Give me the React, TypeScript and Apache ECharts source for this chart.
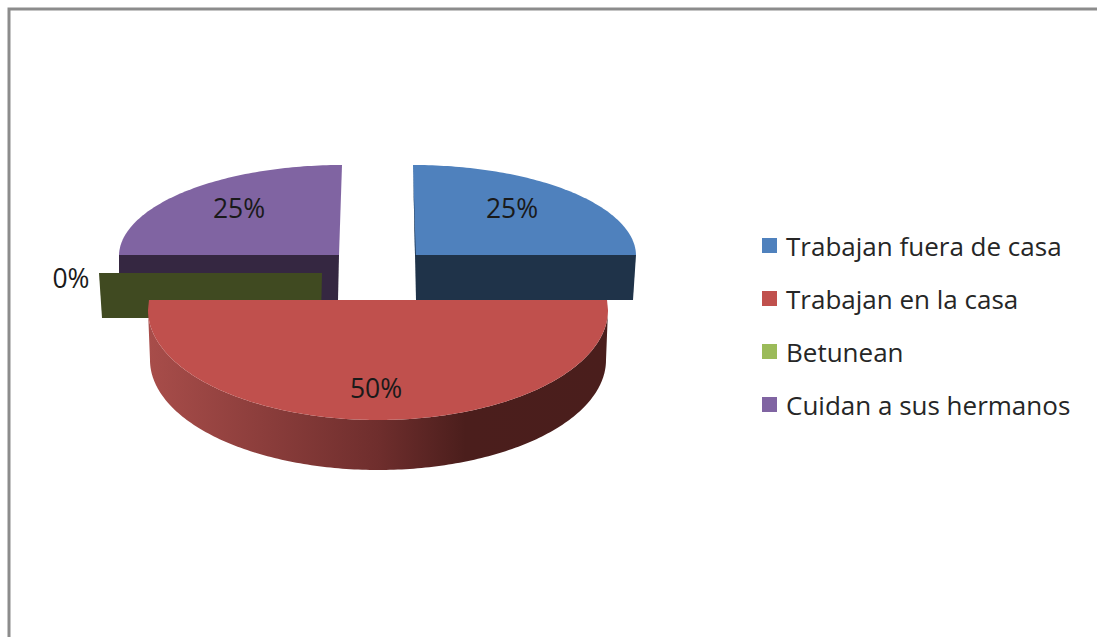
import React, { useEffect, useRef } from "react";
import * as echarts from "echarts";

const categories = ["Trabajan fuera de casa", "Trabajan en la casa", "Betunean", "Cuidan a sus hermanos"];
const values = [25, 50, 0, 25];
const colors = ["#4f81bd", "#c0504d", "#9bbb59", "#8064a2"];
const wallColors = ["#1f3349", "#c0504d", "#404a21", "#352741"];

// Exploded-slice geometry of the 3-D pie (one entry per category).
const layouts = [
  { cx: 415, cy: 255, rx: 221, ry: 90, oy: 0, depth: 45, lean: -2, shrink: 3, lx: 512, ly: 208 },
  { cx: 378, cy: 300, rx: 230, ry: 110, oy: 10, depth: 50, lean: 0, shrink: 2, lx: 376, ly: 388 },
  { cx: 322, cy: 273, rx: 223, ry: 90, oy: 0, depth: 45, lean: 0, shrink: 3, lx: 71, ly: 278 },
  { cx: 339, cy: 255, rx: 220, ry: 90, oy: 0, depth: 45, lean: 3, shrink: 0, lx: 239, ly: 208 },
];
const drawOrder = [3, 0, 2, 1];
const total = values.reduce((a, b) => a + b, 0);
const FONT = "Open Sans";

function rim(l: any, deg: number, down = 0): number[] {
  const a = (deg * Math.PI) / 180;
  const s = Math.sin(a);
  const c = Math.cos(a);
  const shrink = down ? l.shrink : 0;
  const lean = c > 0 ? l.lean * c : 0;
  return [l.cx + (l.rx - shrink) * s + lean, l.cy + l.oy - l.ry * c + down];
}

function renderSlice(index: number) {
  return (_params: any, api: any) => {
    const l = layouts[index];
    const before = values.slice(0, index).reduce((a, b) => a + b, 0);
    const start = (before / total) * 360;
    const sweep = (api.value(0) / total) * 360;
    const end = start + sweep;
    const children: any[] = [];
    const topArc: number[][] = [];
    const n = Math.max(1, Math.round(sweep));
    for (let i = 0; i <= n; i++) topArc.push(rim(l, start + (sweep * i) / n));

    if (sweep >= 180) {
      // front rounded wall
      const bottomArc = topArc.map((_, i) => rim(l, start + (sweep * i) / n, l.depth)).reverse();
      children.push({
        type: "polygon",
        shape: { points: [...topArc, ...bottomArc] },
        style: {
          fill: new echarts.graphic.LinearGradient(0, 0, 1, 0, [
            { offset: 0, color: "#a84d4a" },
            { offset: 0.5, color: "#6f2e2d" },
            { offset: 0.69, color: "#4b1e1c" },
            { offset: 1, color: "#4a1e1c" },
          ]),
        },
      });
    } else {
      // flat cut wall facing the viewer, along the horizontal edge of the slice
      const wallAngle = sweep === 0 || start % 180 === 90 ? start : end;
      const a = rim(l, wallAngle);
      const b = rim(l, wallAngle, l.depth);
      children.push({
        type: "polygon",
        shape: {
          points: [[l.cx, l.cy], a, b, [l.cx + (a[0] > l.cx ? 1 : -1), l.cy + l.depth]],
        },
        style: { fill: wallColors[index] },
      });
    }
    if (sweep > 0) {
      const corner = l.oy
        ? [[rim(l, start)[0] - 1, l.cy], ...topArc, [rim(l, end)[0] + 1, l.cy]]
        : [[l.cx, l.cy], ...topArc];
      children.push({ type: "polygon", shape: { points: corner }, style: { fill: colors[index] } });
    }
    if (l.lean < 0 && sweep > 0) {
      // thin sliver of the far cut wall, seen at the leaning edge
      const top = rim(l, start);
      children.push({
        type: "polygon",
        shape: { points: [top, [l.cx + 0.8, l.cy], [l.cx, l.cy]] },
        style: { fill: wallColors[index] },
      });
    }
    children.push({
      type: "text",
      style: {
        text: `${Math.round((api.value(0) / total) * 100)}%`,
        x: l.lx,
        y: l.ly,
        fill: "#1a1a1a",
        fontSize: 26.5,
        fontFamily: FONT,
        align: "center",
        verticalAlign: "middle",
      },
    });
    return { type: "group", children };
  };
}

export default function App() {
  const ref = useRef<HTMLDivElement>(null);
  useEffect(() => {
    if (!ref.current) return;
    const chart = echarts.init(ref.current, undefined, { renderer: "svg" });
    chart.setOption({
      animation: false,
      backgroundColor: "#ffffff",
      color: colors,
      legend: {
        orient: "vertical",
        left: 757,
        top: 224,
        icon: "rect",
        itemWidth: 15,
        itemHeight: 15,
        itemGap: 20,
        data: categories,
        selectedMode: false,
        textStyle: { fontFamily: FONT, fontSize: 26, color: "#262626", padding: [0, 0, 0, 4], height: 33, lineHeight: 33 },
      },
      graphic: [
        {
          type: "rect",
          silent: true,
          shape: { x: 9, y: 9, width: 1200, height: 800 },
          style: { fill: "none", stroke: "#8c8c8c", lineWidth: 3 },
        },
      ],
      series: drawOrder.map((i) => ({
        type: "custom",
        name: categories[i],
        coordinateSystem: "none",
        silent: true,
        itemStyle: { color: colors[i] },
        data: [[values[i]]],
        renderItem: renderSlice(i),
      })),
    });
    return () => chart.dispose();
  }, []);
  return <div ref={ref} style={{ position: "fixed", left: 0, top: 0, width: 1097, height: 637 }} />;
}
